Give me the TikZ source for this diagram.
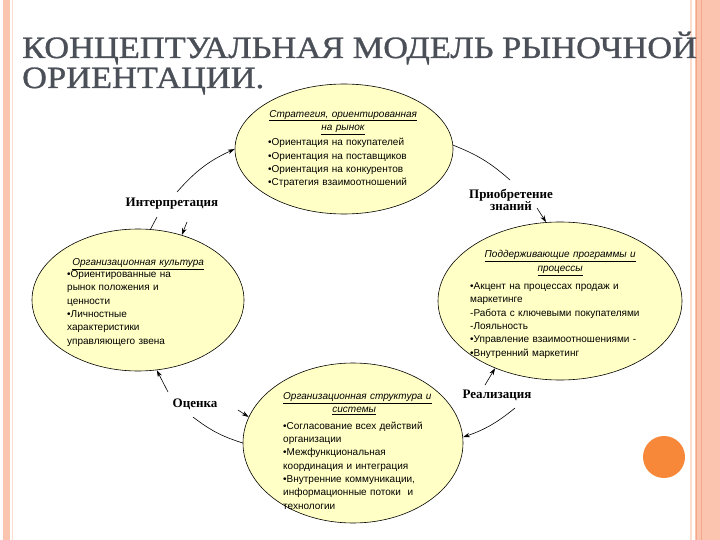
\documentclass[tikz,border=0pt]{standalone}
\usepackage{fontspec}
\setmainfont{Liberation Serif}
\newfontfamily\titlefont[FakeStretch=1.11, FakeBold=1]{Liberation Serif}
\newfontfamily\bodyfont{Liberation Sans}
\usetikzlibrary{arrows.meta, positioning, shapes.geometric}
\definecolor{frameSalmon}{HTML}{FBC4AE}
\definecolor{frameLine}{HTML}{F3A68A}
\definecolor{frameLight}{HTML}{FCDCCD}
\definecolor{titleGray}{HTML}{4B5058}
\definecolor{blobFill}{HTML}{FFFFC6}
\definecolor{dotOrange}{HTML}{F7883A}

\tikzset{
  blob/.style={ellipse, draw=black, fill=blobFill, line width=0.6pt, inner sep=0pt},
  blobtext/.style={font=\bodyfont\fontsize{10}{13.3}\selectfont, inner sep=0pt, anchor=north west},
  stagelabel/.style={font=\bfseries\fontsize{13}{12}\selectfont, align=center, inner sep=1pt},
  flow/.style={line width=0.6pt},
  flowtip/.style={flow, -{Stealth[length=7pt,width=4.5pt]}},
}

\begin{document}
\begin{tikzpicture}[x=1pt, y=-1pt]
  \useasboundingbox (0,0) rectangle (720,540);
  \fill[white] (0,0) rectangle (720,540);

  % frame
  \fill[frameSalmon] (3,0) rectangle (10,540);
  \draw[frameLight, line width=1pt] (12.5,0) -- (12.5,540);
  \draw[frameLight, line width=2.5pt] (691,0) -- (691,540);
  \fill[frameSalmon] (695,0) rectangle (720,540);
  \draw[frameLine, line width=1pt] (696,0) -- (696,540);
  \draw[frameLine, line width=0.8pt] (701.5,0) -- (701.5,540);
  \fill[dotOrange] (664,457) circle (21);

  % title
  \node[anchor=base west, inner sep=0pt, text=titleGray, font=\titlefont\fontsize{31}{31}\selectfont] (titleA) at (22,58) {КОНЦЕПТУАЛЬНАЯ МОДЕЛЬ РЫНОЧНОЙ};
  \node[anchor=base west, inner sep=0pt, text=titleGray, font=\titlefont\fontsize{31}{31}\selectfont] (titleB) at (22,88) {ОРИЕНТАЦИИ.};

  % ellipses
  \node[blob, minimum width=218, minimum height=130] (strategy) at (344,149) {};
  \node[blob, minimum width=212, minimum height=142] (culture) at (138,300) {};
  \node[blob, minimum width=244, minimum height=158] (support) at (560,301) {};
  \node[blob, minimum width=220, minimum height=160] (structure) at (353,443) {};

  \node[blobtext, text width=150pt] (strategyText) at (268,110) {%
    {\centering\underline{\textit{Стратегия, ориентированная}}\\
    \underline{\textit{на рынок}}\par}\vspace{2pt}
    \raggedright
    •Ориентация на покупателей\\
    •Ориентация на поставщиков\\
    •Ориентация на конкурентов\\
    •Стратегия взаимоотношений};

  \node[blobtext, text width=142pt] (cultureText) at (67,258.5) {%
    {\centering\underline{\textit{Организационная культура}}\par}\vspace{-1.3pt}
    \raggedright
    •Ориентированные на\\
    рынок положения и\\
    ценности\\
    •Личностные\\
    характеристики\\
    управляющего звена};

  \node[blobtext, text width=180pt] (supportText) at (470,250.5) {%
    {\centering\underline{\textit{Поддерживающие программы и}}\\
    \underline{\textit{процессы}}\par}\vspace{5pt}
    \raggedright
    •Акцент на процессах продаж и\\
    маркетинге\\
    -Работа с ключевыми покупателями\\
    -Лояльность\\
    •Управление взаимоотношениями -\\
    •Внутренний маркетинг};

  \node[blobtext, text width=142pt] (structureText) at (283,392.5) {%
    {\centering\underline{\textit{Организационная структура и}}\\
    \underline{\textit{системы}}\par}\vspace{3pt}
    \raggedright
    •Согласование всех действий\\
    организации\\
    •Межфункциональная\\
    координация и интеграция\\
    •Внутренние коммуникации,\\
    информационные потоки~ и\\
    технологии};

  % stage labels
  \node[stagelabel] (interp) at (172,204) {Интерпретация};
  \node[stagelabel] (acquire) at (511,200) {Приобретение\\знаний};
  \node[stagelabel] (assess) at (195,404) {Оценка};
  \node[stagelabel] (realise) at (497,395) {Реализация};

  % connectors
  \coordinate (interpA) at (177,192);
  \coordinate (interpB) at (157,217);
  \coordinate (interpC) at (187,222);
  \coordinate (acquireA) at (510,180);
  \coordinate (acquireB) at (537,208);
  \coordinate (realiseA) at (485,385);
  \coordinate (realiseB) at (515,408);
  \coordinate (assessA) at (193,417);
  \coordinate (assessB) at (238,410);
  \coordinate (assessC) at (168,392);

  \draw[flowtip] (interpA) to[bend left=12] (strategy.180);
  \draw[flow] (culture.80) -- (interpB);
  \draw[flowtip] (interpC) -- (culture.56);
  \draw[flow] (strategy.2) to[bend left=10] (acquireA);
  \draw[flowtip] (acquireB) -- (support.100);
  \draw[flowtip] (realiseA) -- (support.226);
  \draw[flowtip] (realiseB) to[bend left=10] (structure.3);
  \draw[flow] (structure.180) to[bend left=10] (assessA);
  \draw[flowtip] (assessB) -- (structure.166);
  \draw[flowtip] (assessC) -- (culture.285);
\end{tikzpicture}
\end{document}
